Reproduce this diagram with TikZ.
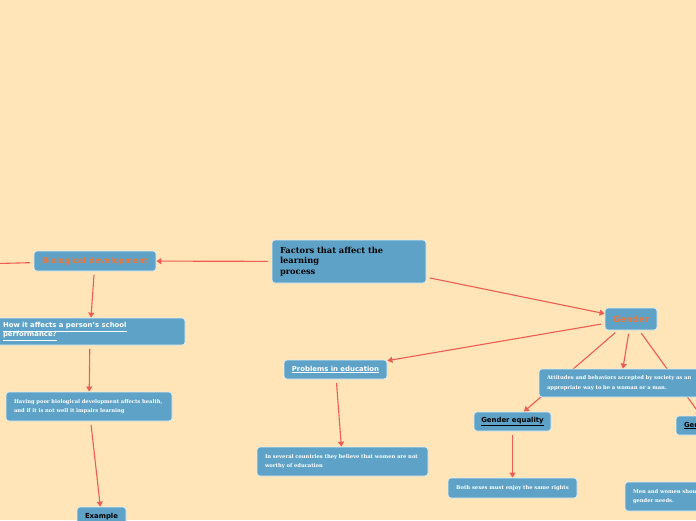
\documentclass[tikz,border=0pt]{standalone}
\usepackage{fontspec}
\setmainfont{DejaVu Serif}
\setsansfont{DejaVu Sans}
\usetikzlibrary{arrows.meta}
\pgfdeclarelayer{bg}
\pgfdeclarelayer{edges}
\pgfsetlayers{bg,edges,main}
\definecolor{paper}{RGB}{255,229,183}
\definecolor{boxc}{RGB}{94,163,199}
\definecolor{edgec}{RGB}{238,92,82}
\definecolor{orangec}{RGB}{232,118,62}
\begin{document}
\begin{tikzpicture}[x=1pt,y=-1pt,
  box/.style={rectangle, rounded corners=3pt, fill=boxc, draw=white!80!boxc, line width=0.7pt, inner sep=0pt},
  lbox/.style={box, align=left, inner xsep=8pt},
  serifbox/.style={lbox, text=white, font=\bfseries\fontsize{5.2}{9.5}\selectfont},
  sansw/.style={box, text=white, font=\sffamily\bfseries\fontsize{6.9}{9}\selectfont},
  sansk/.style={box, text=black, font=\sffamily\bfseries\fontsize{6.9}{9}\selectfont},
  hub/.style={box, text=orangec, font=\sffamily\bfseries\fontsize{8}{10}\selectfont},
  link/.style={draw=edgec, line width=1.1pt, -{Triangle[length=5pt,width=6pt]}, shorten <=3.5pt},
]
\useasboundingbox (0,0) rectangle (696,520);
\begin{pgfonlayer}{bg}
\fill[paper] (0,0) rectangle (696,520);
\end{pgfonlayer}

% nodes
\node[lbox, text width=138pt, minimum height=43pt, font=\bfseries\fontsize{8.3}{10.3}\selectfont] (main) at (349,261.5) {Factors that affect the\\learning\\process};
\node[hub, minimum width=122pt, minimum height=20pt] (bio) at (95,261) {Biological development};
\node[sansw, lbox, text width=174pt, minimum height=27pt] (how) at (90,331.5) {\underline{How it affects a person's school}\\\underline{performance?}};
\node[serifbox, text width=150pt, minimum height=29pt] (having) at (89,406.5) {Having poor biological development affects health,\\and if it is not well it impairs learning};
\node[sansk, minimum width=49pt, minimum height=20pt] (example) at (101.5,517) {Example};
\node[hub, font=\sffamily\bfseries\fontsize{8.8}{10}\selectfont, minimum width=52pt, minimum height=22pt] (gender) at (631,319) {Gender};
\node[sansw, minimum width=103pt, minimum height=19pt] (problems) at (335.5,369.5) {\underline{Problems in education}};
\node[serifbox, text width=155pt, minimum height=29pt] (several) at (342.5,461.5) {In several countries they believe that women are not\\worthy of education};
\node[serifbox, text width=147pt, minimum height=28pt] (attitudes) at (620.5,383) {Attitudes and behaviors accepted by society as an\\appropriate way to be a woman or a man.};
\node[sansk, minimum width=77pt, minimum height=19pt] (equality) at (512.5,421.5) {\underline{Gender equality}};
\node[sansk, lbox, text width=48pt, minimum height=19pt] (roles) at (708,425.5) {\underline{Gender roles}};
\node[serifbox, minimum width=129pt, minimum height=20pt, align=center, inner xsep=0pt] (both) at (512.5,488) {Both sexes must enjoy the same rights};
\node[serifbox, text width=164pt, minimum height=29pt] (needs) at (715,496.5) {Men and women should\\gender needs.};
\coordinate (offleft) at (-60,265);

% connectors
\begin{pgfonlayer}{edges}
\draw[link] (main) -- (bio);
\draw[link] (bio) -- (offleft);
\draw[link] (bio) -- (how);
\draw[link] (how) -- (having);
\draw[link] (having) -- (example);
\draw[link] (main) -- (gender);
\draw[link] (gender) -- (problems);
\draw[link] (problems) -- (several);
\draw[link] (gender) -- (attitudes);
\draw[link] (gender) -- (equality);
\draw[link] (gender) -- (roles);
\draw[link] (equality) -- (both);
\end{pgfonlayer}
\end{tikzpicture}
\end{document}
